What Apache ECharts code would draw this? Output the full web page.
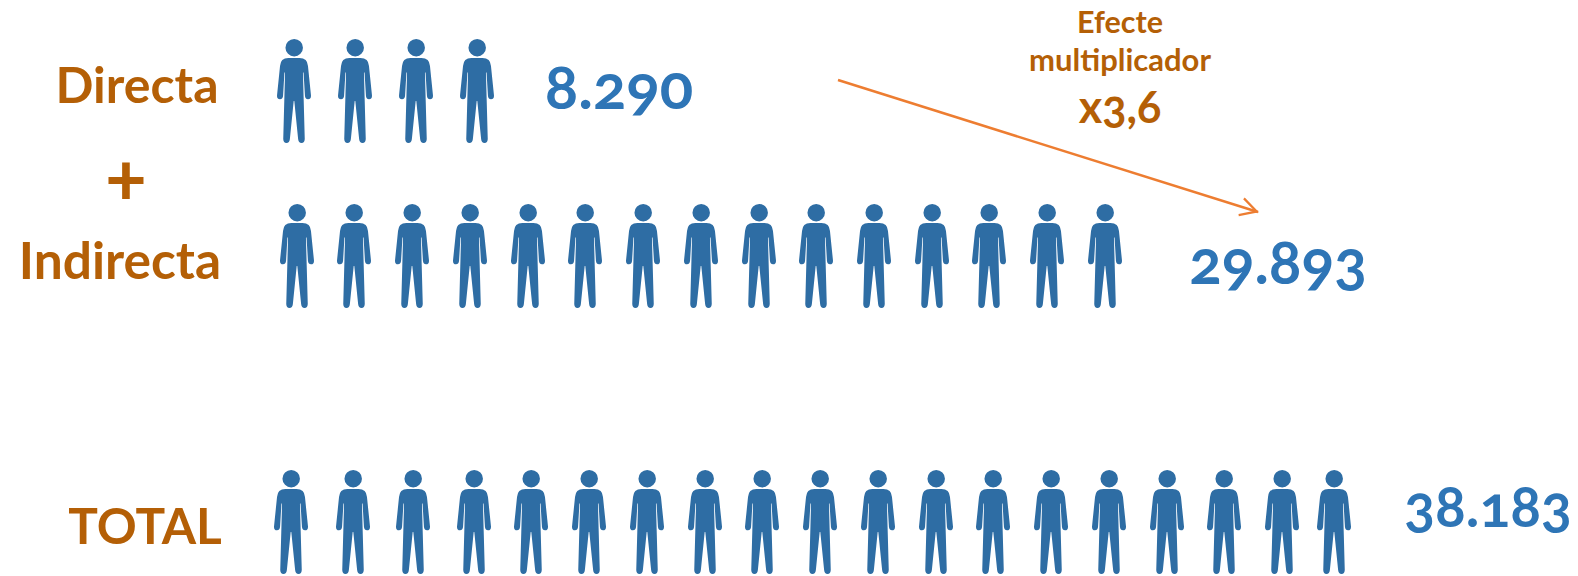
<!DOCTYPE html>
<html><head><meta charset="utf-8">
<script src="https://cdn.jsdelivr.net/npm/echarts@6/dist/echarts.min.js"></script>
<style>html,body{margin:0;padding:0;background:#fff}#c{width:1578px;height:576px}
#c text{font-feature-settings:"onum" 1;font-variant-numeric:oldstyle-nums}</style>
</head><body><div id="c"></div>
<script>
const directaX=[294,355,416,477];
const indirectaX=[297,354,412,470,528,585,643,701,759,816,874,932,989,1047,1105];
const totalX=[291,353,413,474,531,589,647,705,762,820,878,936,993,1051,1109,1167,1224,1282,1334];
const rowY=[91,256,522];
const rowLabels=[['Directa',137,84,50],['+',126,173,76],['Indirecta',120,259,51.5],['TOTAL',145,525,49.5]];
const rowValues=[['8.290',619,85,62],['29.893',1278,260,60.5],['38.183',1488,505,57]];
const noteLabels=[['Efecte',1120,21,30.5],['multiplicador',1120,59,31],['x3,6',1120,106,45]];
const arrowFrom=[838,80], arrowTo=[1258,212];
const person='path://M8.6 8.7a8.7 8.7 0 1 0 17.4 0a8.7 8.7 0 1 0-17.4 0Z'+
 'M11.5 19L22.5 19Q30.6 19 31 27L34 56.5Q34.2 60.3 31 60.3Q28.5 60.3 28 57L26.6 33.5L26 33.5L27.8 100Q27.6 104 24.6 104Q21.6 104 21.2 100L17.4 62L16.8 62L13 100Q12.6 104 9.6 104Q6.6 104 6.4 100L8.2 33.5L7.6 33.5L6.2 57Q5.7 60.3 3.2 60.3Q0 60.3 0.2 56.5L3.2 27Q3.6 19 11.5 19Z';
const head='path://M18 17L27.9 35L25.8 36L18 21.8L10.2 36L8.1 35ZM0 0L0.02 0L0 0.02ZM36 36L35.98 36L36 35.98Z';
const brown='#B45F06', blue='#2E75B6', figure='#2E6DA4', orange='#ED7D31';
const people=(xs,y)=>({type:'scatter',symbol:person,symbolSize:[34,104],itemStyle:{color:figure,opacity:1},silent:true,data:xs.map(x=>[x,y])});
const texts=(rows,color)=>({type:'scatter',symbolSize:1,silent:true,itemStyle:{opacity:0},
  data:rows.map(r=>({value:[r[1],r[2]],label:{fontSize:r[3]}})),
  label:{show:true,position:'inside',opacity:1,align:'center',verticalAlign:'middle',color,fontFamily:'Lato',fontWeight:'bold',
    formatter:p=>rows[p.dataIndex][0]}});
const chart=echarts.init(document.getElementById('c'),null,{renderer:'svg'});
chart.setOption({animation:false,backgroundColor:'#fff',
  grid:{left:0,right:0,top:0,bottom:0},
  xAxis:{type:'value',min:0,max:1578,show:false},
  yAxis:{type:'value',min:0,max:576,inverse:true,show:false},
  series:[
    people(directaX,rowY[0]),people(indirectaX,rowY[1]),people(totalX,rowY[2]),
    texts(rowLabels,brown),texts(rowValues,blue),texts(noteLabels,brown),
    {type:'scatter',data:[],markLine:{silent:true,animation:false,symbol:['none',head],symbolSize:36,
      label:{show:false},lineStyle:{color:orange,width:2.5,type:'solid'},itemStyle:{color:orange},
      data:[[{coord:arrowFrom},{coord:arrowTo}]]}}
  ]});
</script></body></html>
